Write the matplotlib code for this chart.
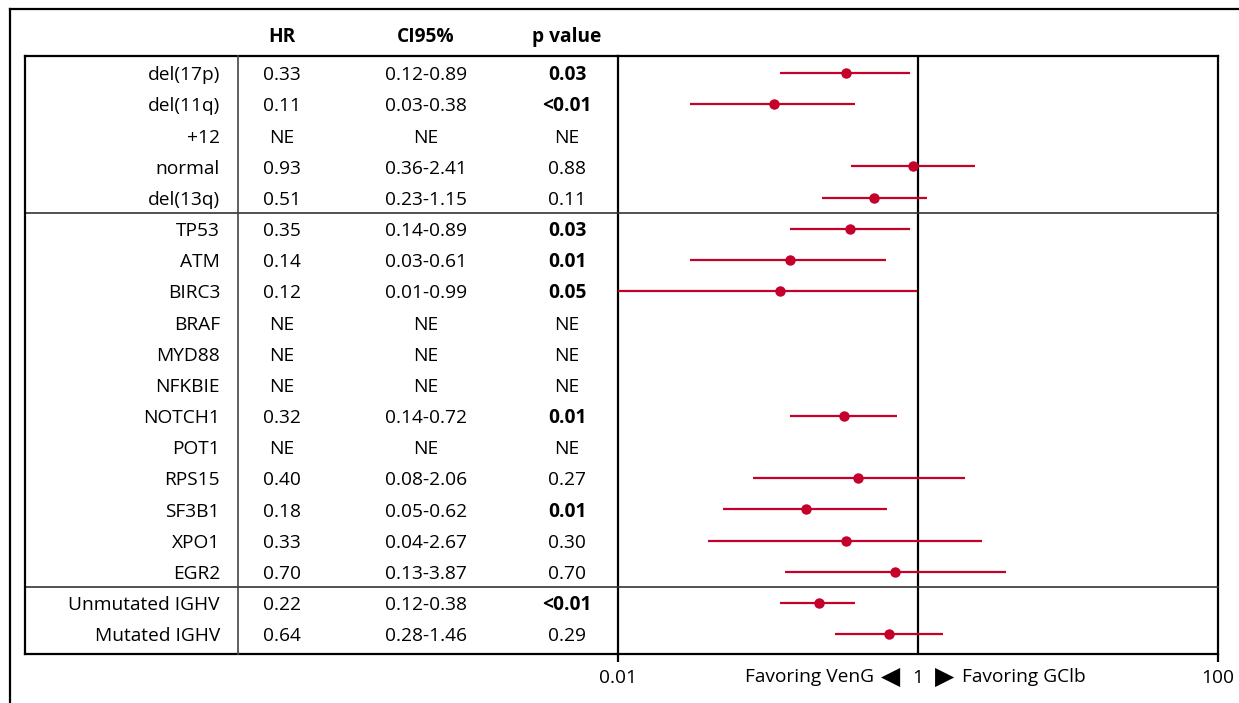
import matplotlib
matplotlib.use('Agg')
import matplotlib.pyplot as plt
import numpy as np
from matplotlib.lines import Line2D
from matplotlib.transforms import blended_transform_factory

plt.rcParams['font.family'] = ['Open Sans', 'DejaVu Sans']

# data
labels = ['del(17p)', 'del(11q)', '+12', 'normal', 'del(13q)',
          'TP53', 'ATM', 'BIRC3', 'BRAF', 'MYD88', 'NFKBIE', 'NOTCH1', 'POT1',
          'RPS15', 'SF3B1', 'XPO1', 'EGR2',
          'Unmutated IGHV', 'Mutated IGHV']
hr_txt = ['0.33', '0.11', 'NE', '0.93', '0.51',
          '0.35', '0.14', '0.12', 'NE', 'NE', 'NE', '0.32', 'NE',
          '0.40', '0.18', '0.33', '0.70',
          '0.22', '0.64']
ci_txt = ['0.12-0.89', '0.03-0.38', 'NE', '0.36-2.41', '0.23-1.15',
          '0.14-0.89', '0.03-0.61', '0.01-0.99', 'NE', 'NE', 'NE', '0.14-0.72', 'NE',
          '0.08-2.06', '0.05-0.62', '0.04-2.67', '0.13-3.87',
          '0.12-0.38', '0.28-1.46']
p_txt = ['0.03', '<0.01', 'NE', '0.88', '0.11',
         '0.03', '0.01', '0.05', 'NE', 'NE', 'NE', '0.01', 'NE',
         '0.27', '0.01', '0.30', '0.70',
         '<0.01', '0.29']
p_bold = [True, True, False, False, False,
          True, True, True, False, False, False, True, False,
          False, True, False, False,
          True, False]
group_breaks = [4.5, 16.5]

W, H = 1239, 703
fig = plt.figure(figsize=(W / 100, H / 100), dpi=100)

def fx(px):
    return px / W

def fy(py):
    return 1 - py / H

RED = '#c4002b'
FS = 13.8
DY = 0.07  # small nudge so text sits level with the dots

ax = fig.add_axes([fx(618), fy(654), fx(1218) - fx(618), fy(56) - fy(654)])
ax.set_xscale('log')
ax.set_xlim(0.01, 100)
ax.set_ylim(18.64, -0.545)

for i in range(len(labels)):
    if hr_txt[i] == 'NE':
        continue
    hr = float(hr_txt[i])
    lo, hi = [float(v) for v in ci_txt[i].split('-')]
    ax.plot([lo, hi], [i, i], color=RED, lw=1.6, solid_capstyle='butt', zorder=3)
    ax.plot(hr, i, 'o', color=RED, ms=6.5, zorder=4)

ax.axvline(1, color='black', lw=1.6, zorder=2)
for sp in ax.spines.values():
    sp.set_linewidth(1.6)
ax.set_yticks([])
ax.set_xticks([0.01, 100])
ax.set_xticklabels(['0.01', '100'])
ax.xaxis.set_minor_locator(matplotlib.ticker.NullLocator())
ax.tick_params(axis='x', length=6, width=1.6, labelsize=FS, pad=5)

# table part
tr = blended_transform_factory(fig.transFigure, ax.transData)
for i, lab in enumerate(labels):
    y = i + DY
    fig.text(fx(220), y, lab, transform=tr, ha='right', va='center', fontsize=FS)
    fig.text(fx(282), y, hr_txt[i], transform=tr, ha='center', va='center', fontsize=FS)
    fig.text(fx(426), y, ci_txt[i], transform=tr, ha='center', va='center', fontsize=FS)
    fig.text(fx(567), y, p_txt[i], transform=tr, ha='center', va='center', fontsize=FS,
             fontweight='bold' if p_bold[i] else 'normal')

for h, xc in zip(['HR', 'CI95%', 'p value'], [282, 426, 567]):
    fig.text(fx(xc), fy(37), h, ha='center', va='center', fontsize=FS, fontweight='bold')

# separators across full width
for b in group_breaks:
    fig.add_artist(Line2D([fx(25), fx(1218)], [b, b], transform=tr, color='#333333', lw=1.2))

# table box
fig.add_artist(Line2D([fx(25), fx(618)], [fy(56), fy(56)], color='black', lw=1.6))
fig.add_artist(Line2D([fx(25), fx(618)], [fy(654), fy(654)], color='black', lw=1.6))
fig.add_artist(Line2D([fx(25), fx(25)], [fy(56), fy(654)], color='black', lw=1.6))
fig.add_artist(Line2D([fx(238), fx(238)], [fy(56), fy(654)], color='#444444', lw=1.2))

# outer frame
fig.add_artist(Line2D([fx(10), fx(10)], [fy(9), 0], color='black', lw=1.6))
fig.add_artist(Line2D([fx(10), 1], [fy(9), fy(9)], color='black', lw=1.6))

# favoring labels
fig.text(fx(874), fy(677), 'Favoring VenG', ha='right', va='center', fontsize=FS)
fig.text(fx(891), fy(677), '\u25C0', ha='center', va='center', fontsize=18,
         family='DejaVu Sans')
fig.text(fx(918), fy(678), '1', ha='center', va='center', fontsize=FS)
fig.text(fx(945), fy(677), '\u25B6', ha='center', va='center', fontsize=18,
         family='DejaVu Sans')
fig.text(fx(962), fy(677), 'Favoring GClb', ha='left', va='center', fontsize=FS)

fig.savefig('out.png', dpi=100)
